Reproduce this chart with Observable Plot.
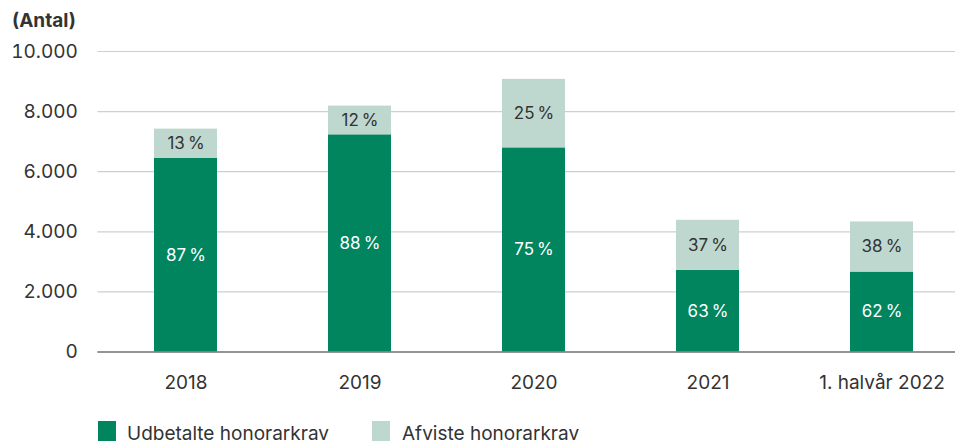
<!DOCTYPE html>
<html>
<head>
<meta charset="utf-8">
<script src="https://cdn.jsdelivr.net/npm/d3@7"></script>
<script src="https://cdn.jsdelivr.net/npm/@observablehq/plot@0.6"></script>
<style>
  html, body { margin: 0; padding: 0; background: #fff; }
  body { width: 955px; height: 444px; position: relative; overflow: hidden; font-family: Inter, "Liberation Sans", sans-serif; color: #333; }
  #chart { position: absolute; left: 0; top: 0; }
  .abs { position: absolute; white-space: nowrap; }
  .unit { left: 12px; top: 9px; font-weight: 700; font-size: 19px; line-height: 24px; color: #333; }
  .sw { width: 18px; height: 20px; top: 421px; }
  .lt { top: 424px; font-size: 19px; line-height: 20px; color: #333; }
</style>
</head>
<body>
<div id="chart"></div>
<div class="abs unit">(Antal)</div>
<div id="legend"></div>
<script>
const categories = ["2018", "2019", "2020", "2021", "1. halvår 2022"];
const udbetalte = [6440, 7227, 6793, 2717, 2660];
const afviste = [977, 956, 2280, 1666, 1667];
const pctUdbetalte = ["87\u202F%", "88\u202F%", "75\u202F%", "63\u202F%", "62\u202F%"];
const pctAfviste = ["13\u202F%", "12\u202F%", "25\u202F%", "37\u202F%", "38\u202F%"];
const seriesNames = ["Udbetalte honorarkrav", "Afviste honorarkrav"];
const colors = ["#00855f", "#bed8cf"];
const labelColors = ["#ffffff", "#333333"];
const yTicks = [0, 2000, 4000, 6000, 8000, 10000];

const rows = [];
categories.forEach((c, i) => {
  rows.push({cat: c, serie: seriesNames[0], value: udbetalte[i], label: pctUdbetalte[i]});
  rows.push({cat: c, serie: seriesNames[1], value: afviste[i], label: pctAfviste[i]});
});

const fmt = d3.formatLocale({decimal: ",", thousands: ".", grouping: [3], currency: ["", " kr"]}).format(",");

const chart = Plot.plot({
  width: 955,
  height: 405,
  marginLeft: 97.4,
  marginRight: 0,
  marginTop: 51,
  marginBottom: 53.5,
  style: {fontFamily: "Inter, 'Liberation Sans', sans-serif", fontSize: "19px", color: "#333", background: "#fff"},
  x: {domain: categories, range: [97.4, 968.6], paddingInner: 0.6385, paddingOuter: 0.319, label: null},
  y: {domain: [0, 10000], label: null},
  color: {domain: seriesNames, range: colors},
  marks: [
    Plot.ruleY(yTicks.filter(d => d > 0), {stroke: "#cfcfcf", strokeWidth: 1.2}),
    Plot.barY(rows, Plot.stackY({x: "cat", y: "value", fill: "serie", order: seriesNames})),
    Plot.text(rows, Plot.stackY({x: "cat", y: "value", z: "serie", order: seriesNames, text: "label",
      fill: d => labelColors[seriesNames.indexOf(d.serie)], fontSize: 17})),
    Plot.ruleY([0], {stroke: "#707070", strokeWidth: 1.5}),
    Plot.axisY({ticks: yTicks, tickFormat: fmt, tickSize: 0, tickPadding: 20, label: null, fontSize: 19}),
    Plot.axisX({tickSize: 0, tickPadding: 23, label: null, fontSize: 19})
  ]
});
document.getElementById("chart").appendChild(chart);

const legend = document.getElementById("legend");
const items = [{sx: 98, tx: 127}, {sx: 372, tx: 402}];
seriesNames.forEach((name, i) => {
  const sw = document.createElement("div");
  sw.className = "abs sw";
  sw.style.left = items[i].sx + "px";
  sw.style.background = colors[i];
  legend.appendChild(sw);
  const t = document.createElement("div");
  t.className = "abs lt";
  t.style.left = items[i].tx + "px";
  t.textContent = name;
  legend.appendChild(t);
});
</script>
</body>
</html>
